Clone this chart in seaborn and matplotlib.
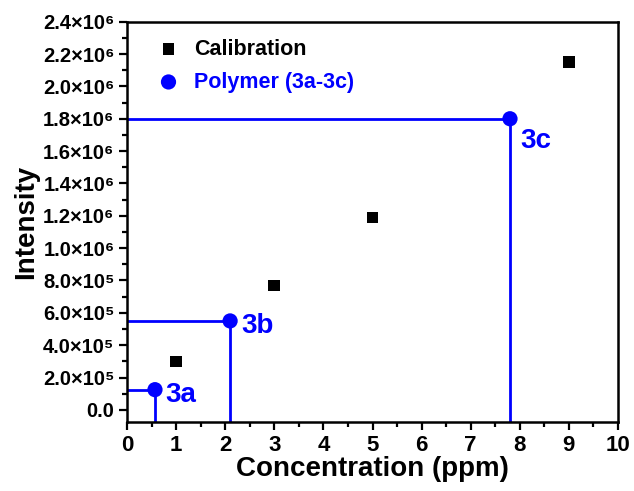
import matplotlib
matplotlib.use("Agg")
import matplotlib.pyplot as plt
import seaborn as sns
import pandas as pd
from matplotlib.ticker import MultipleLocator, FixedLocator

sns.set_style("ticks")
plt.rcParams['font.family'] = ['Liberation Sans', 'DejaVu Sans']
plt.rcParams['font.weight'] = 'bold'
for k in ['text.color', 'axes.labelcolor', 'xtick.color', 'ytick.color', 'axes.edgecolor']:
    plt.rcParams[k] = 'black'

# Data
calib_conc = [1, 3, 5, 9]
calib_int = [3.0e5, 7.7e5, 1.19e6, 2.15e6]
poly_conc = [0.57, 2.1, 7.8]
poly_int = [1.25e5, 5.5e5, 1.8e6]
poly_labels = ["3a", "3b", "3c"]
ytick_vals = [0, 2e5, 4e5, 6e5, 8e5, 1.0e6, 1.2e6, 1.4e6, 1.6e6, 1.8e6, 2.0e6, 2.2e6, 2.4e6]
ytick_labels = ["0.0", "2.0×10⁵", "4.0×10⁵", "6.0×10⁵", "8.0×10⁵", "1.0×10⁶", "1.2×10⁶",
                "1.4×10⁶", "1.6×10⁶", "1.8×10⁶", "2.0×10⁶", "2.2×10⁶", "2.4×10⁶"]
xtick_vals = list(range(0, 11))

ymin = -0.75e5
blue = "#0000FF"

fig = plt.figure(figsize=(6.34, 4.91), dpi=100)
ax = fig.add_axes([0.2003, 0.1405, 0.7745, 0.8153])

# drop lines
for x, y in zip(poly_conc, poly_int):
    ax.plot([0, x], [y, y], color=blue, lw=2, zorder=2)
    ax.plot([x, x], [ymin, y], color=blue, lw=2, zorder=2)

df_c = pd.DataFrame({"x": calib_conc, "y": calib_int})
df_p = pd.DataFrame({"x": poly_conc, "y": poly_int})
sns.scatterplot(data=df_c, x="x", y="y", marker="s", color="black", s=70,
                edgecolor="none", ax=ax, label="Calibration", zorder=3)
sns.scatterplot(data=df_p, x="x", y="y", marker="o", color=blue, s=120,
                edgecolor="none", ax=ax, label="Polymer (3a-3c)", zorder=3)

for x, y, t in zip(poly_conc, poly_int, poly_labels):
    if t == "3c":
        ax.text(x + 0.22, y - 0.55e5, t, color=blue, fontsize=20, fontweight="bold",
                va="top", ha="left")
    else:
        ax.text(x + 0.22, y - 0.3e5, t, color=blue, fontsize=20, fontweight="bold",
                va="center", ha="left")

ax.set_xlim(0, 10)
ax.set_ylim(ymin, 2.4e6)

ax.tick_params(axis="both", which="major", direction="out", length=6, width=1.6, color="black")
ax.tick_params(axis="both", which="minor", direction="out", length=3.5, width=1.6, color="black")
ax.tick_params(axis="x", pad=3, labelsize=16)
ax.tick_params(axis="y", pad=3, labelsize=14.5)

ax.xaxis.set_major_locator(FixedLocator(xtick_vals))
ax.xaxis.set_minor_locator(MultipleLocator(0.5))
ax.set_xticklabels([str(v) for v in xtick_vals], fontsize=16, fontweight="bold")
ax.yaxis.set_major_locator(FixedLocator(ytick_vals))
ax.yaxis.set_minor_locator(MultipleLocator(1e5))
ax.set_yticklabels(ytick_labels, fontsize=14.5, fontweight="bold")

for sp in ax.spines.values():
    sp.set_linewidth(1.8)
    sp.set_color("black")
    sp.set_visible(True)

ax.set_xlabel("Concentration (ppm)", fontsize=20, fontweight="bold", labelpad=0)
ax.set_ylabel("Intensity", fontsize=20, fontweight="bold", labelpad=3)

leg = ax.legend(loc="upper left", bbox_to_anchor=(0.01, 0.995), frameon=False,
                fontsize=15.5, handletextpad=0.2, borderaxespad=0.3, labelspacing=0.55)
for txt, col in zip(leg.get_texts(), ["black", blue]):
    txt.set_color(col)
    txt.set_fontweight("bold")

fig.savefig("out.png", dpi=100)
